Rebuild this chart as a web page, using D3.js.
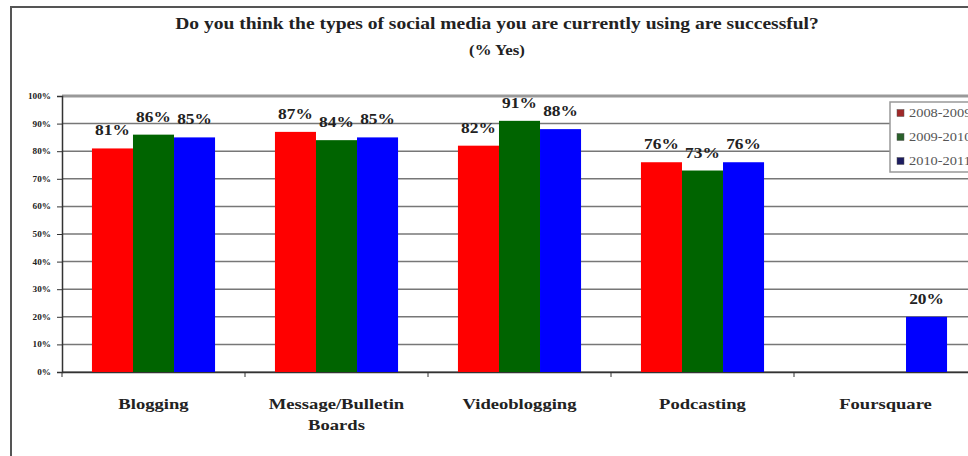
<!DOCTYPE html>
<html>
<head>
<meta charset="utf-8">
<script src="https://cdn.jsdelivr.net/npm/d3@7"></script>
<style>
  body { margin: 0; background: #fff; }
  text { font-family: "Liberation Serif", "Times New Roman", serif; }
</style>
</head>
<body>
<div id="chart"></div>
<script>
// data
const categories = ["Blogging", "Message/Bulletin Boards", "Videoblogging", "Podcasting", "Foursquare"];
const seriesNames = ["2008-2009", "2009-2010", "2010-2011"];
const values2008 = [81, 87, 82, 76, null];
const values2009 = [86, 84, 91, 73, null];
const values2010 = [85, 85, 88, 76, 20];
const yTicks = [0, 10, 20, 30, 40, 50, 60, 70, 80, 90, 100];
const colors = ["#ff0000", "#006400", "#0000ff"];
const legendColors = ["#a02828", "#2a602a", "#1c1c60"];

const width = 968;
const height = 456;
const margin = { top: 96, right: -9, bottom: 84, left: 62 };
const stretch = 1.24; // the text in the picture is wider than plain Times

// widen a text node horizontally, keeping its anchor
const widen = (sel, k) => sel.each(function() {
  const len = this.getComputedTextLength();
  d3.select(this).attr("textLength", len * k).attr("lengthAdjust", "spacingAndGlyphs");
});

const svg = d3.select("#chart").append("svg")
  .attr("width", width).attr("height", height);

// outer border
svg.append("rect")
  .attr("x", 11).attr("y", 7).attr("width", 980).attr("height", 470)
  .attr("fill", "#fff").attr("stroke", "#555").attr("stroke-width", 2);

const plotW = width - margin.left - margin.right;
const plotH = height - margin.top - margin.bottom;

const x = d3.scaleBand().domain(categories).range([margin.left, margin.left + plotW]);
const xInner = d3.scaleBand().domain(seriesNames).range([0, x.bandwidth()]).paddingOuter(0.73);
const y = d3.scaleLinear().domain([0, 100]).range([margin.top + plotH, margin.top]);

// grid
svg.append("g").selectAll("line").data(yTicks).join("line")
  .attr("x1", margin.left).attr("x2", margin.left + plotW)
  .attr("y1", d => y(d)).attr("y2", d => y(d))
  .attr("stroke", d => d === 100 ? "#999" : "#777")
  .attr("stroke-width", d => d === 100 ? 3 : 1.5);

// y axis
const yAxis = svg.append("g")
  .attr("transform", `translate(${margin.left},0)`)
  .call(d3.axisLeft(y).tickValues(yTicks).tickFormat(d => d + "%").tickSize(5).tickPadding(6));
yAxis.select(".domain").attr("stroke", "#333").attr("stroke-width", 1.5);
yAxis.selectAll("line").attr("stroke", "#333");
yAxis.selectAll("text").attr("font-size", 8).attr("font-weight", "bold").attr("fill", "#222")
  .style("font-family", "'Liberation Serif', serif")
  .call(widen, 1.15);

// x axis line and category ticks
const xAxis = svg.append("g")
  .attr("transform", `translate(0,${margin.top + plotH})`)
  .call(d3.axisBottom(x).tickSize(0).tickFormat(""));
xAxis.select(".domain").attr("stroke", "#333").attr("stroke-width", 1.5);
xAxis.selectAll(".tick").remove();
svg.append("g").selectAll("line")
  .data(categories).join("line")
  .attr("x1", d => x(d)).attr("x2", d => x(d))
  .attr("y1", margin.top + plotH).attr("y2", margin.top + plotH + 5)
  .attr("stroke", "#333");

// bars
const rows = categories.map((c, i) => ({
  cat: c,
  vals: [values2008[i], values2009[i], values2010[i]]
}));
const cells = d => d.vals.map((v, j) => ({ v, s: seriesNames[j], j })).filter(e => e.v !== null);

const groups = svg.append("g").selectAll("g").data(rows).join("g")
  .attr("transform", d => `translate(${x(d.cat)},0)`);

groups.selectAll("rect").data(cells).join("rect")
  .attr("x", e => xInner(e.s))
  .attr("width", xInner.bandwidth())
  .attr("y", e => y(e.v))
  .attr("height", e => y(0) - y(e.v))
  .attr("fill", e => colors[e.j]);

groups.selectAll("text").data(cells).join("text")
  .attr("x", e => xInner(e.s) + xInner.bandwidth() / 2)
  .attr("y", e => y(e.v) - 13)
  .attr("text-anchor", "middle")
  .attr("font-size", 14).attr("font-weight", "bold").attr("fill", "#222")
  .text(e => e.v + "%")
  .call(widen, stretch);

// category labels (Message/Bulletin Boards wraps on two lines)
const catLabels = svg.append("g");
categories.forEach(d => {
  const parts = d === "Message/Bulletin Boards" ? ["Message/Bulletin", "Boards"] : [d];
  parts.forEach((p, i) => {
    catLabels.append("text")
      .attr("x", x(d) + x.bandwidth() / 2)
      .attr("y", 409 + i * 21)
      .attr("text-anchor", "middle")
      .attr("font-size", 15).attr("font-weight", "bold").attr("fill", "#222")
      .text(p)
      .call(widen, stretch);
  });
});

// title
svg.append("text").attr("x", 497).attr("y", 29).attr("text-anchor", "middle")
  .attr("font-size", 16).attr("font-weight", "bold").attr("fill", "#222")
  .text("Do you think the types of social media you are currently using are successful?")
  .call(widen, 1.22);
svg.append("text").attr("x", 497).attr("y", 55).attr("text-anchor", "middle")
  .attr("font-size", 14).attr("font-weight", "bold").attr("fill", "#222")
  .text("(% Yes)")
  .call(widen, 1.2);

// legend
const legend = svg.append("g").attr("transform", "translate(890,102)");
legend.append("rect").attr("width", 100).attr("height", 70)
  .attr("fill", "#fff").attr("stroke", "#999").attr("stroke-width", 1.5);
const li = legend.selectAll("g").data(seriesNames).join("g")
  .attr("transform", (d, i) => `translate(7,${11 + i * 24})`);
li.append("rect").attr("width", 7).attr("height", 7).attr("y", -3.5)
  .attr("fill", (d, i) => legendColors[i]).attr("stroke", "#555").attr("stroke-width", 0.5);
li.append("text").attr("x", 12).attr("y", 4).attr("font-size", 12).attr("fill", "#555").text(d => d)
  .call(widen, 1.2);
</script>
</body>
</html>
